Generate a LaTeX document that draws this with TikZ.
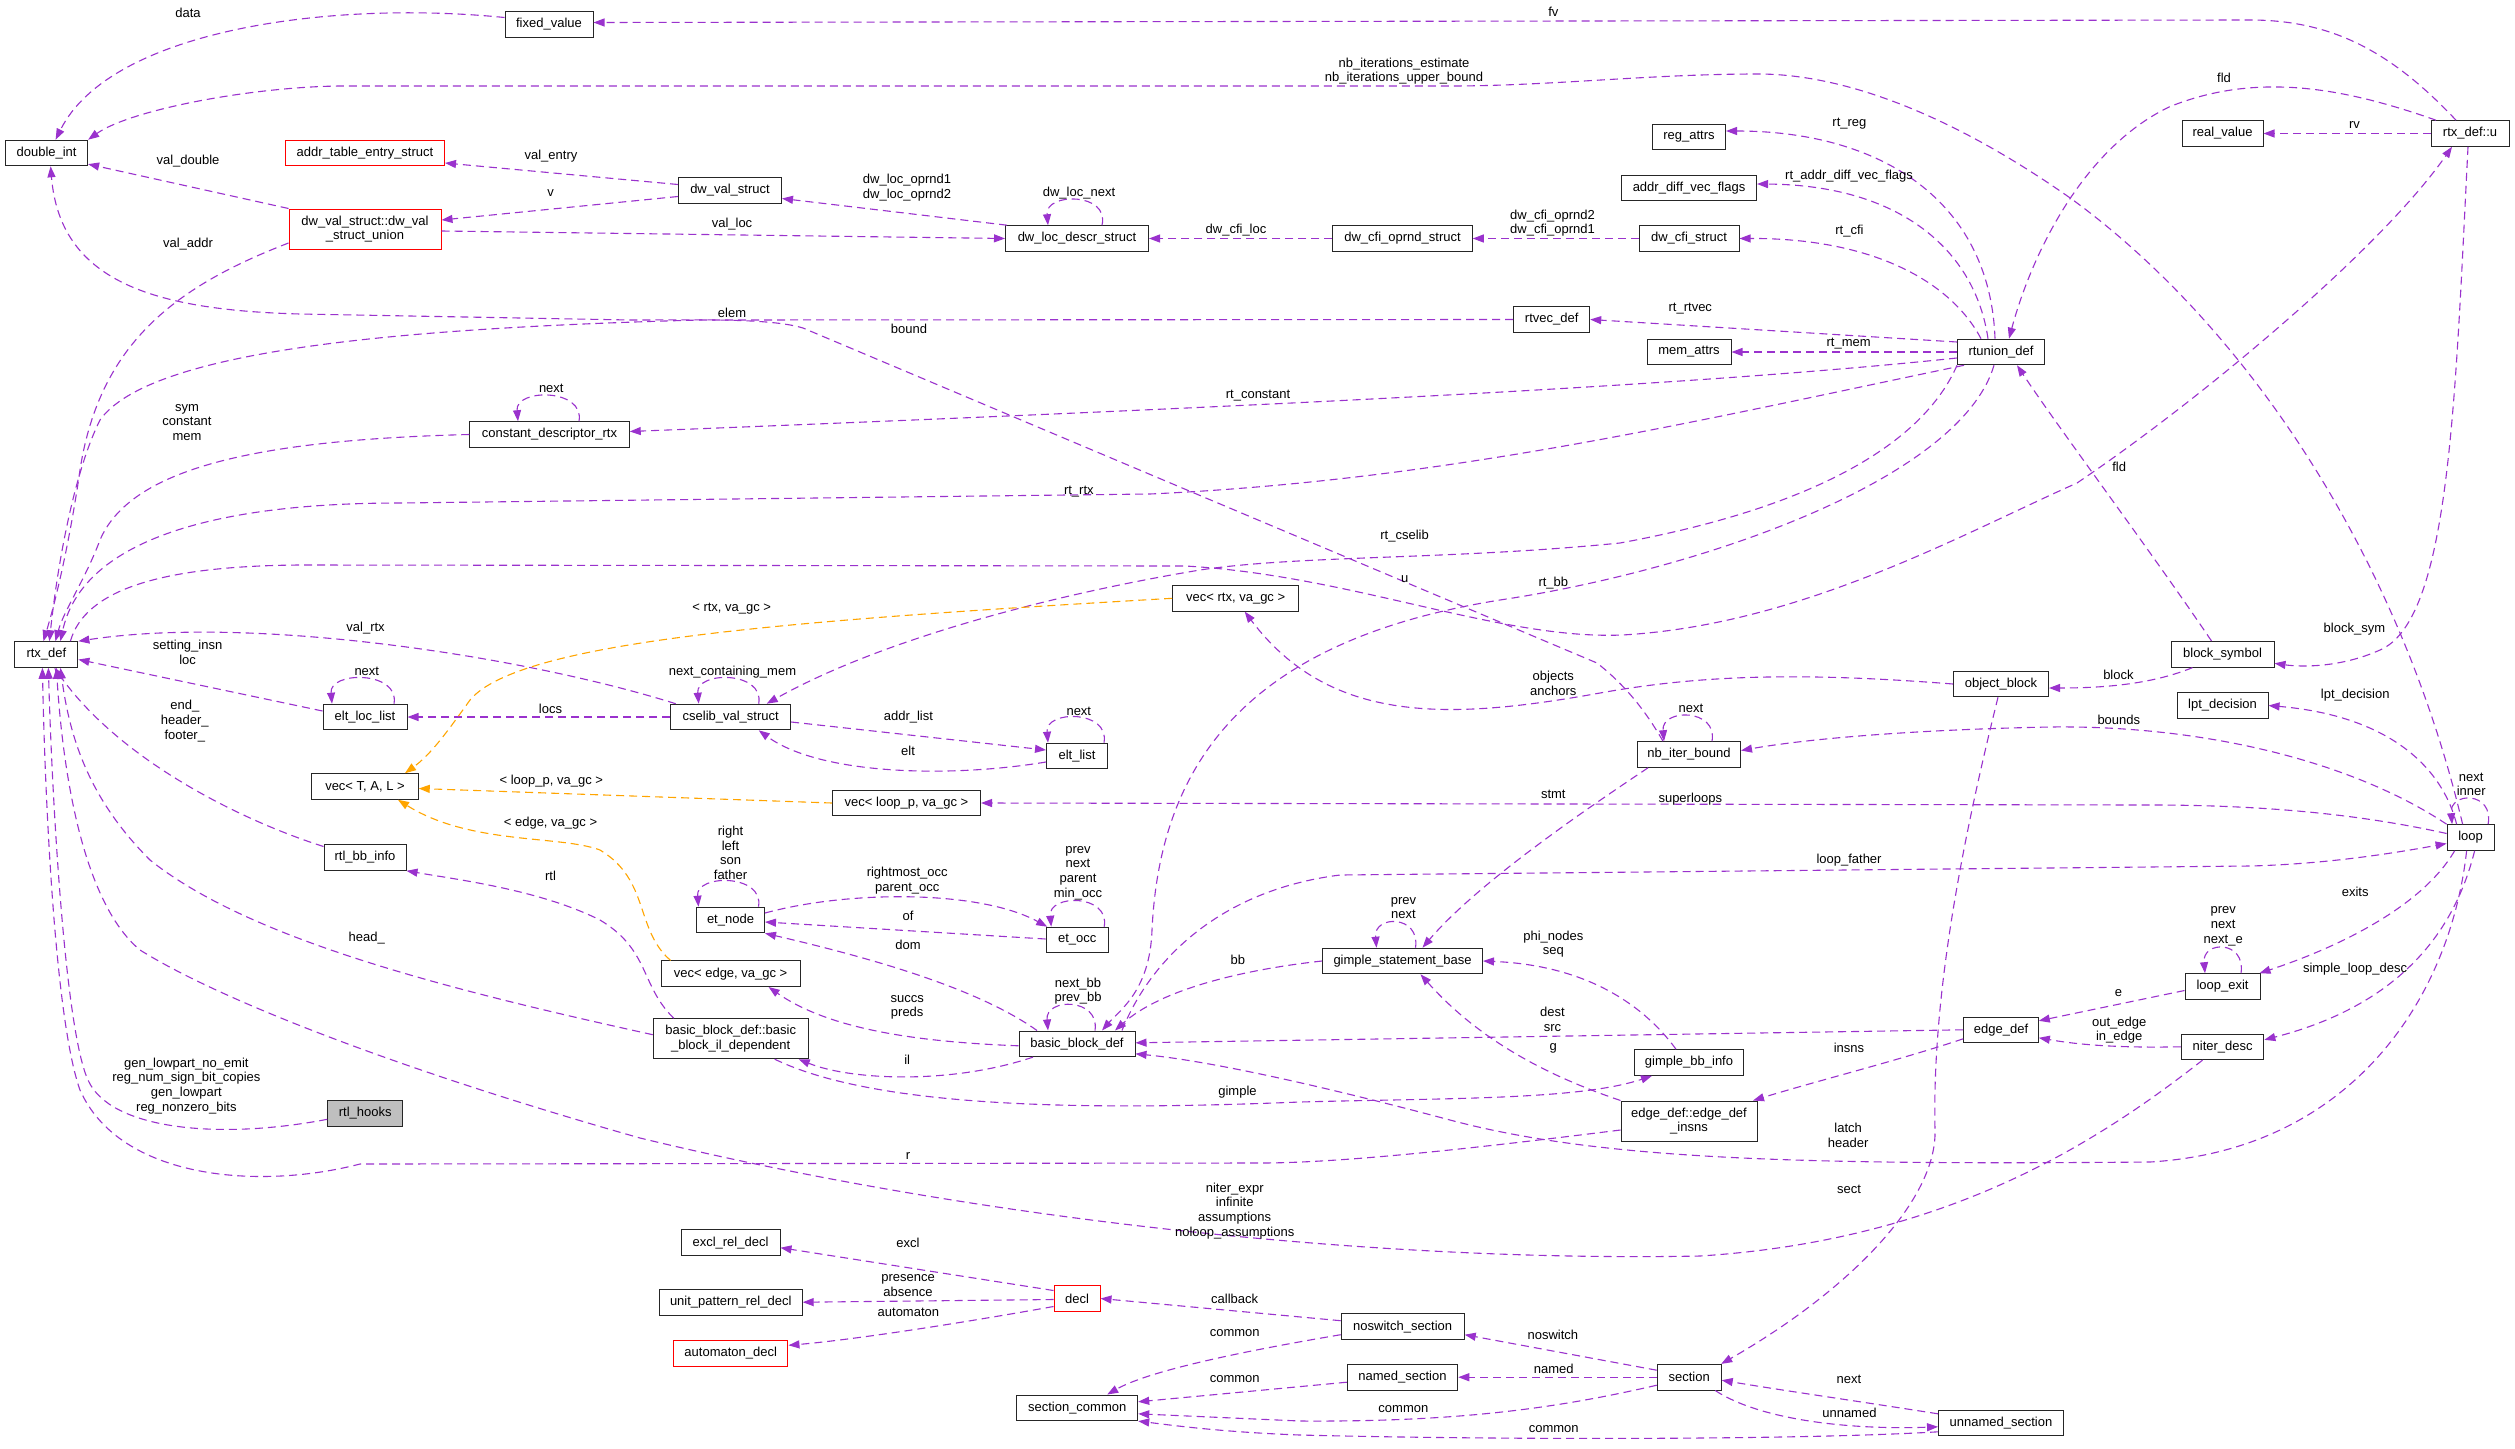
\documentclass[tikz,border=0pt]{standalone}
\usepackage{fontspec}
\setmainfont{Liberation Sans}
\usetikzlibrary{arrows.meta}
\definecolor{pcol}{HTML}{9A32CD}
\definecolor{ocol}{HTML}{FFA500}
\newcommand\dxf{\fontsize{13}{14.7}\selectfont}
\tikzset{
 box/.style={draw=black!85, line width=1pt, fill=white, minimum height=25.6pt, inner xsep=1pt, inner ysep=2pt, font=\dxf, align=center},
 pe/.style={draw=pcol, line width=1.1pt, dash pattern=on 8pt off 5pt, -{Triangle[length=11pt,width=8pt]}},
 oe/.style={pe, draw=ocol},
 lab/.style={font=\dxf, align=center, inner sep=0pt},
}
\begin{document}
\begin{tikzpicture}[x=1pt,y=-1pt]
\fill[white] (0,0) rectangle (2515,1448);
\useasboundingbox (0,0) rectangle (2515,1448);
% nodes
\node[box, minimum width=88pt] (fixedvalue) at (549,24.5) {fixed\_value};
\node[box, minimum width=82pt] (doubleint) at (46.6,153) {double\_int};
\node[box, draw=red, minimum width=159pt] (addrtable) at (365,153) {addr\_table\_entry\_struct};
\node[box, draw=red, minimum height=40pt, minimum width=152pt] (dwvsu) at (365,229) {dw\_val\_struct::dw\_val\\\_struct\_union};
\node[box, minimum width=159.5pt] (cdr) at (549.5,434.5) {constant\_descriptor\_rtx};
\node[box, minimum width=103pt] (dwvs) at (730,190.5) {dw\_val\_struct};
\node[box, minimum width=143pt] (dwloc) at (1077,238.5) {dw\_loc\_descr\_struct};
\node[box, minimum width=73pt] (regattrs) at (1689,137) {reg\_attrs};
\node[box, minimum width=135pt] (advf) at (1689,188) {addr\_diff\_vec\_flags};
\node[box, minimum width=139.5pt] (cfiop) at (1402.5,238.5) {dw\_cfi\_oprnd\_struct};
\node[box, minimum width=100pt] (cfis) at (1689,238.5) {dw\_cfi\_struct};
\node[box, minimum width=76pt] (rtvec) at (1551.7,319.5) {rtvec\_def};
\node[box, minimum width=84pt] (memattrs) at (1689,352) {mem\_attrs};
\node[box, minimum width=81pt] (realv) at (2222.5,133.5) {real\_value};
\node[box, minimum width=78pt] (rtxu) at (2470,133.5) {rtx\_def::u};
\node[box, minimum width=87pt] (rtunion) at (2001,352) {rtunion\_def};
\node[box, minimum width=63pt] (rtx) at (46.4,654.5) {rtx\_def};
\node[box, minimum width=84pt] (eltloc) at (365,717) {elt\_loc\_list};
\node[box, minimum width=106.5pt] (vectal) at (365,786.5) {vec< T, A, L >};
\node[box, minimum width=82pt] (rtlbb) at (365,857.5) {rtl\_bb\_info};
\node[box, minimum width=126pt] (vecrtx) at (1235.7,598.3) {vec< rtx, va\_gc >};
\node[box, minimum width=120pt] (cselib) at (730.7,717) {cselib\_val\_struct};
\node[box, minimum width=61pt] (eltlist) at (1077,756) {elt\_list};
\node[box, minimum width=148pt] (vecloop) at (906.5,803) {vec< loop\_p, va\_gc >};
\node[box, minimum width=68pt] (etnode) at (730.5,920) {et\_node};
\node[box, minimum width=62pt] (etocc) at (1077.2,940) {et\_occ};
\node[box, minimum width=103pt] (nbiter) at (1689,754.5) {nb\_iter\_bound};
\node[box, minimum width=160pt] (gsb) at (1402.5,961) {gimple\_statement\_base};
\node[box, minimum width=103pt] (blocksym) at (2222.5,654.3) {block\_symbol};
\node[box, minimum width=95pt] (objblock) at (2001,684) {object\_block};
\node[box, minimum width=91pt] (lpt) at (2222.5,705.5) {lpt\_decision};
\node[box, minimum width=47pt] (loop) at (2470.6,837.5) {loop};
\node[box, fill=black!25, minimum width=75pt] (rtlhooks) at (365.2,1113.3) {rtl\_hooks};
\node[box, minimum width=139pt] (vecedge) at (730.6,973.7) {vec< edge, va\_gc >};
\node[box, minimum height=40pt, minimum width=155pt] (bbil) at (730.7,1038.7) {basic\_block\_def::basic\\\_block\_il\_dependent};
\node[box, minimum width=116pt] (bbd) at (1077,1043.8) {basic\_block\_def};
\node[box, minimum width=99pt] (excl) at (730.5,1242.7) {excl\_rel\_decl};
\node[box, minimum width=143pt] (upr) at (730.7,1302.2) {unit\_pattern\_rel\_decl};
\node[box, draw=red, minimum width=114.5pt] (autom) at (730.7,1353.3) {automaton\_decl};
\node[box, draw=red, minimum width=46pt] (decl) at (1077,1298.5) {decl};
\node[box, minimum width=121pt] (seccommon) at (1077.2,1407.8) {section\_common};
\node[box, minimum width=109pt] (gbb) at (1689,1062.5) {gimple\_bb\_info};
\node[box, minimum height=40pt, minimum width=136pt] (edi) at (1689,1121) {edge\_def::edge\_def\\\_insns};
\node[box, minimum width=123pt] (noswitch) at (1402.7,1326.7) {noswitch\_section};
\node[box, minimum width=110.5pt] (named) at (1402.5,1377.2) {named\_section};
\node[box, minimum width=64pt] (section) at (1689.2,1377.2) {section};
\node[box, minimum width=75pt] (loopexit) at (2222.5,986.5) {loop\_exit};
\node[box, minimum width=74.6pt] (edgedef) at (2001,1029.8) {edge\_def};
\node[box, minimum width=82.5pt] (niter) at (2222.6,1046.8) {niter\_desc};
\node[box, minimum width=125pt] (unnamed) at (2001,1422.8) {unnamed\_section};
% edges
\draw[pe] ([yshift=7pt]fixedvalue.west) .. controls (330,0) and (110,30) .. ([xshift=9pt]doubleint.north);
\draw[pe] ([xshift=-14pt]rtxu.north) .. controls (2390,50) and (2330,20) .. (2250,20) -- ([yshift=2pt]fixedvalue.east);
\draw[pe] ([xshift=-8pt]loop.north) .. controls (2400,560) and (2250,330) .. (2073,200) .. controls (1960,120) and (1850,74) .. (1758,74) .. controls (1650,74) and (1550,86) .. (1450,86) -- (340,86) .. controls (250,87) and (130,110) .. (doubleint.north east);
\draw[pe] (dwvsu.north west) -- (doubleint.-15);
\draw[pe] ([yshift=-14pt]dwvsu.west) .. controls (180,285) and (100,340) .. (80,470) .. controls (70,540) and (56,600) .. ([xshift=-3pt]rtx.north);
\draw[pe] ([yshift=-2pt]dwvsu.east) -- (dwloc.west);
\draw[pe] ([yshift=-6pt]dwvs.west) -- ([yshift=9pt]dwvsu.east);
\draw[pe] ([yshift=6pt]dwvs.west) -- ([yshift=-10pt]addrtable.east);
\draw[pe] ([xshift=-70pt]dwloc.north) -- ([yshift=-8pt]dwvs.east);
\draw[pe] ([xshift=25pt]dwloc.north) .. controls +(8,-33) and +(-3,-33) .. ([xshift=-29pt]dwloc.north);
\draw[pe] (cfiop.west) -- (dwloc.east);
\draw[pe] (cfis.west) -- (cfiop.east);
\draw[pe] ([xshift=-6pt]rtunion.north) .. controls (1990,200) and (1880,131) .. ([yshift=6pt]regattrs.east);
\draw[pe] ([xshift=-13pt]rtunion.north) .. controls (1975,250) and (1900,185) .. ([yshift=4pt]advf.east);
\draw[pe] ([xshift=-20pt]rtunion.north) .. controls (1950,280) and (1870,238) .. (cfis.east);
\draw[pe] ([yshift=10pt]rtunion.west) -- (rtvec.east);
\draw[pe] (rtunion.west) -- (memattrs.east);
\draw[pe] ([yshift=-6pt]rtunion.west) .. controls (1700,385) and (1300,405) .. ([yshift=3pt]cdr.east);
\draw[pe] ([xshift=-37pt]rtunion.south) .. controls (1700,420) and (1450,480) .. (1150,494) -- (400,503) .. controls (190,503) and (80,550) .. ([xshift=14pt]rtx.north);
\draw[pe] (rtunion.south west) .. controls (1920,450) and (1800,510) .. (1620,543) .. controls (1450,560) and (1300,555) .. (1200,570) .. controls (1050,595) and (880,640) .. ([xshift=36pt]cselib.north);
\draw[pe] ([xshift=-7pt]rtunion.south) .. controls (1960,480) and (1700,570) .. (1500,600) .. controls (1250,640) and (1160,760) .. (1152,930) .. controls (1150,990) and (1120,1010) .. ([xshift=25pt]bbd.north);
\draw[pe] ([xshift=-34pt]rtxu.north) .. controls (2350,90) and (2260,70) .. (2169,107) .. controls (2080,150) and (2030,260) .. ([xshift=8pt]rtunion.north);
\draw[pe] (rtxu.west) -- (realv.east);
\draw[pe] ([xshift=-2pt]rtxu.south) .. controls (2455,400) and (2450,620) .. (2380,650) .. controls (2340,668) and (2300,667) .. ([yshift=-9pt]blocksym.east);
\draw[pe] ([xshift=24pt]rtx.north) .. controls (85,590) and (160,566) .. (300,565) -- (1185,566) .. controls (1350,575) and (1500,640) .. (1622,635) .. controls (1800,625) and (1960,535) .. (2077,483) .. controls (2200,400) and (2380,250) .. ([xshift=-18pt]rtxu.south);
\draw[pe] ([xshift=-26pt]nbiter.north) .. controls (1645,710) and (1625,685) .. (1597,663) -- (803,328) .. controls (770,318) and (700,320) .. (630,320) -- (300,314) .. controls (150,310) and (60,280) .. ([xshift=4pt]doubleint.south);
\draw[pe] (rtvec.west) -- (700,320) .. controls (400,328) and (150,350) .. (100,420) .. controls (75,470) and (58,560) .. ([xshift=3pt]rtx.north);
\draw[pe] (cdr.west) .. controls (250,440) and (130,470) .. (100,540) .. controls (85,580) and (64,610) .. ([xshift=9pt]rtx.north);
\draw[pe] ([xshift=29.5pt]cdr.north) .. controls +(6,-33) and +(-3,-33) .. ([xshift=-31.5pt]cdr.north);
\draw[pe] ([xshift=-55pt]cselib.north) .. controls (520,655) and (250,615) .. (rtx.north east);
\draw[pe] ([yshift=6pt]eltloc.west) -- ([yshift=-5pt]rtx.east);
\draw[pe] (cselib.west) -- (eltloc.east);
\draw[pe] ([yshift=-5pt]cselib.east) -- ([yshift=6pt]eltlist.west);
\draw[pe] ([yshift=-6pt]eltlist.west) .. controls (950,778) and (820,775) .. ([xshift=28pt]cselib.south);
\draw[oe] (vecrtx.west) .. controls (800,620) and (520,640) .. (470,700) .. controls (445,735) and (430,755) .. ([xshift=40pt]vectal.north);
\draw[oe] (vecloop.west) -- ([yshift=-2pt]vectal.east);
\draw[oe] ([xshift=-60pt]vecedge.north) .. controls (635,930) and (650,880) .. (600,850) .. controls (560,835) and (470,845) .. ([xshift=33pt]vectal.south);
\draw[pe] ([yshift=4pt]loop.west) .. controls (2350,812) and (2250,805) .. (2150,805) -- (vecloop.east);
\draw[pe] ([xshift=-41pt]nbiter.south) .. controls (1600,800) and (1480,880) .. ([xshift=20pt]gsb.north);
\draw[pe] (gsb.west) .. controls (1240,970) and (1160,990) .. ([xshift=38pt]bbd.north);
\draw[pe] ([xshift=45pt]bbd.north) .. controls (1150,960) and (1220,890) .. (1340,875) -- (2250,866) .. controls (2330,864) and (2400,852) .. ([yshift=-6pt]loop.west);
\draw[pe] ([xshift=-40pt]bbd.north) .. controls (980,990) and (880,960) .. (etnode.south east);
\draw[pe] ([yshift=7pt]etnode.east) .. controls (850,890) and (980,890) .. ([xshift=-30pt]etocc.north);
\draw[pe] ([yshift=1pt]etocc.west) -- ([yshift=-2pt]etnode.east);
\draw[pe] ([yshift=-2pt]bbd.west) .. controls (920,1042) and (830,1030) .. ([xshift=38pt]vecedge.south);
\draw[pe] ([xshift=-44pt]bbd.south) .. controls (950,1085) and (850,1080) .. ([xshift=68pt]bbil.south);
\draw[pe] ([xshift=44pt]bbil.south) .. controls (880,1110) and (1100,1110) .. (1300,1102) .. controls (1450,1098) and (1580,1100) .. ([xshift=-37pt]gbb.south);
\draw[pe] ([xshift=-57pt]bbil.north) .. controls (640,985) and (650,950) .. (600,920) .. controls (540,890) and (460,880) .. (rtlbb.south east);
\draw[pe] ([yshift=11pt]rtlbb.west) .. controls (240,820) and (120,760) .. ([xshift=8pt]rtx.south);
\draw[pe] ([yshift=4pt]bbil.west) .. controls (450,990) and (250,940) .. (150,860) .. controls (90,800) and (70,740) .. ([xshift=14pt]rtx.south);
\draw[pe] ([yshift=-9pt]edi.west) .. controls (1500,1145) and (1350,1163) .. (1260,1163) -- (360,1164) .. controls (260,1190) and (120,1180) .. (80,1090) .. controls (55,1020) and (45,800) .. ([xshift=-4pt]rtx.south);
\draw[pe] ([yshift=-6pt]rtlhooks.west) .. controls (220,1140) and (110,1130) .. (88,1080) .. controls (65,1030) and (52,800) .. ([xshift=2pt]rtx.south);
\draw[pe] ([xshift=-20pt]niter.south) .. controls (2100,1140) and (1950,1240) .. (1700,1256) .. controls (1400,1262) and (1000,1225) .. (640,1138) .. controls (400,1070) and (220,1000) .. (140,950) .. controls (80,900) and (62,760) .. ([xshift=10pt]rtx.south);
\draw[pe] ([xshift=-4pt]loop.south) .. controls (2450,1000) and (2350,1150) .. (2150,1162) .. controls (1800,1165) and (1600,1160) .. (1450,1120) .. controls (1300,1080) and (1200,1060) .. ([yshift=-10pt]bbd.east);
\draw[pe] ([xshift=-16pt]loop.south) .. controls (2420,910) and (2330,950) .. ([xshift=37pt]loopexit.north);
\draw[pe] ([xshift=4pt]loop.south) .. controls (2450,950) and (2380,1010) .. ([yshift=7pt]niter.east);
\draw[pe] ([xshift=-14pt]loop.north) .. controls (2440,760) and (2380,715) .. (lpt.east);
\draw[pe] (loop.north west) .. controls (2350,760) and (2200,725) .. (2050,727) .. controls (1900,730) and (1800,740) .. ([yshift=4pt]nbiter.east);
\draw[pe] ([yshift=-4pt]loopexit.west) -- ([yshift=9pt]edgedef.east);
\draw[pe] (niter.west) .. controls (2120,1048) and (2080,1045) .. ([yshift=-8pt]edgedef.east);
\draw[pe] (edgedef.west) -- ([yshift=1pt]bbd.east);
\draw[pe] ([yshift=-9pt]edgedef.west) .. controls (1900,1060) and (1820,1080) .. ([xshift=64pt]edi.north);
\draw[pe] (edi.north west) .. controls (1530,1070) and (1470,1030) .. ([xshift=18pt]gsb.south);
\draw[pe] ([xshift=-13pt]gbb.north) .. controls (1640,1000) and (1580,965) .. (gsb.east);
\draw[pe] ([yshift=8pt]decl.west) -- ([yshift=-5pt]excl.east);
\draw[pe] ([yshift=-1pt]decl.west) -- (upr.east);
\draw[pe] ([yshift=-8pt]decl.west) .. controls (950,1325) and (850,1340) .. ([yshift=8pt]autom.east);
\draw[pe] ([yshift=6pt]noswitch.west) -- (decl.east);
\draw[pe] ([yshift=-8pt]noswitch.west) .. controls (1250,1350) and (1150,1370) .. ([xshift=30pt]seccommon.north);
\draw[pe] ([yshift=-5pt]named.west) -- ([yshift=6pt]seccommon.east);
\draw[pe] ([yshift=-8pt]section.west) .. controls (1550,1410) and (1450,1422) .. (1300,1421) -- ([yshift=-6pt]seccommon.east);
\draw[pe] ([yshift=-9pt]unnamed.west) .. controls (1800,1440) and (1500,1440) .. (1300,1435) .. controls (1220,1432) and (1170,1425) .. (seccommon.south east);
\draw[pe] ([xshift=26pt]section.south) .. controls (1760,1420) and (1850,1430) .. ([yshift=-4pt]unnamed.west);
\draw[pe] ([yshift=9pt]unnamed.west) .. controls (1850,1400) and (1780,1390) .. ([yshift=-3pt]section.east);
\draw[pe] ([yshift=7pt]section.west) -- ([yshift=-8pt]noswitch.east);
\draw[pe] (section.west) -- (named.east);
\draw[pe] ([xshift=-3pt]objblock.south) .. controls (1960,850) and (1932,1000) .. (1935,1130) .. controls (1937,1200) and (1850,1290) .. ([xshift=32pt]section.north);
\draw[pe] (objblock.west) .. controls (1800,672) and (1700,675) .. (1600,693) .. controls (1450,720) and (1330,725) .. ([xshift=9pt]vecrtx.south);
\draw[pe] ([xshift=-30pt]blocksym.south) .. controls (2150,685) and (2100,688) .. ([yshift=-4pt]objblock.east);
\draw[pe] ([xshift=-11pt]blocksym.north) .. controls (2150,550) and (2060,430) .. ([xshift=16pt]rtunion.south);
% self loops
\draw[pe] ([xshift=18.5pt]loopexit.north) .. controls +(5,-33) and +(-3,-33) .. ([xshift=-17.5pt]loopexit.north);
\draw[pe] ([xshift=17.5pt]loop.north) .. controls +(6,-33) and +(-3,-33) .. ([xshift=-18.5pt]loop.north);
\draw[pe] ([xshift=23pt]nbiter.north) .. controls +(6,-33) and +(-3,-33) .. ([xshift=-25pt]nbiter.north);
\draw[pe] ([xshift=13pt]gsb.north) .. controls +(5,-33) and +(-3,-33) .. ([xshift=-26pt]gsb.north);
\draw[pe] ([xshift=18pt]bbd.north) .. controls +(5,-33) and +(-3,-33) .. ([xshift=-29pt]bbd.north);
\draw[pe] ([xshift=28pt]etnode.north) .. controls +(6,-33) and +(-3,-33) .. ([xshift=-32pt]etnode.north);
\draw[pe] ([xshift=27pt]etocc.north) .. controls +(6,-33) and +(-3,-33) .. ([xshift=-26pt]etocc.north);
\draw[pe] ([xshift=27pt]eltlist.north) .. controls +(6,-33) and +(-3,-33) .. ([xshift=-29pt]eltlist.north);
\draw[pe] ([xshift=29pt]eltloc.north) .. controls +(6,-33) and +(-3,-33) .. ([xshift=-33pt]eltloc.north);
\draw[pe] ([xshift=28pt]cselib.north) .. controls +(6,-33) and +(-3,-33) .. ([xshift=-32pt]cselib.north);
% labels
\node[lab] (t1) at (188,12.7) {data};
\node[lab] (t2) at (1553.3,11.7) {fv};
\node[lab] (t3) at (1404,71) {nb\_iterations\_estimate\\nb\_iterations\_upper\_bound};
\node[lab] (t4) at (188,160.7) {val\_double};
\node[lab] (t5) at (188,243.7) {val\_addr};
\node[lab] (t6) at (551,156) {val\_entry};
\node[lab] (t7) at (550.5,192.7) {v};
\node[lab] (t8) at (907,187.5) {dw\_loc\_oprnd1\\dw\_loc\_oprnd2};
\node[lab] (t9) at (1079,192.7) {dw\_loc\_next};
\node[lab] (t10) at (732,223.7) {val\_loc};
\node[lab] (t11) at (732,312.7) {elem};
\node[lab] (t12) at (909,328.7) {bound};
\node[lab] (t13) at (1236,230) {dw\_cfi\_loc};
\node[lab] (t14) at (1258,396) {rt\_constant};
\node[lab] (t15) at (1849.4,123.3) {rt\_reg};
\node[lab] (t16) at (1849,175.7) {rt\_addr\_diff\_vec\_flags};
\node[lab] (t17) at (1552.5,223.2) {dw\_cfi\_oprnd2\\dw\_cfi\_oprnd1};
\node[lab] (t18) at (1849.4,231.3) {rt\_cfi};
\node[lab] (t19) at (1690.3,308.7) {rt\_rtvec};
\node[lab] (t20) at (1848.6,343.7) {rt\_mem};
\node[lab] (t21) at (2224,78.3) {fld};
\node[lab] (t22) at (2354.4,125) {rv};
\node[lab] (t23) at (2119.2,467.3) {fld};
\node[lab] (t24) at (551.3,388.7) {next};
\node[lab] (t25) at (187,422.5) {sym\\constant\\mem};
\node[lab] (t26) at (1078.8,492) {rt\_rtx};
\node[lab] (t27) at (1404.6,536.3) {rt\_cselib};
\node[lab] (t28) at (1404.6,579) {u};
\node[lab] (t29) at (1553.3,583) {rt\_bb};
\node[lab] (t30) at (731.7,608.3) {< rtx, va\_gc >};
\node[lab] (t31) at (732.5,671.7) {next\_containing\_mem};
\node[lab] (t32) at (908.4,716.7) {addr\_list};
\node[lab] (t33) at (1078.8,711) {next};
\node[lab] (t34) at (908,750.7) {elt};
\node[lab] (t35) at (730.5,852.7) {right\\left\\son\\father};
\node[lab] (t36) at (907.2,880.3) {rightmost\_occ\\parent\_occ};
\node[lab] (t37) at (1078,873) {prev\\next\\parent\\min\_occ};
\node[lab] (t38) at (908,916.3) {of};
\node[lab] (t39) at (908,944.7) {dom};
\node[lab] (t40) at (1237.9,959.7) {bb};
\node[lab] (t41) at (365.6,628) {val\_rtx};
\node[lab] (t42) at (187.6,652.5) {setting\_insn\\loc};
\node[lab] (t43) at (366.8,671.7) {next};
\node[lab] (t44) at (550.5,708.7) {locs};
\node[lab] (t45) at (184.8,721.2) {end\_\\header\_\\footer\_};
\node[lab] (t46) at (551.3,780.7) {< loop\_p, va\_gc >};
\node[lab] (t47) at (550.5,823) {< edge, va\_gc >};
\node[lab] (t48) at (550.5,876.3) {rtl};
\node[lab] (t49) at (366.8,938.3) {head\_};
\node[lab] (t50) at (1553.3,683.2) {objects\\anchors};
\node[lab] (t51) at (1691,708.7) {next};
\node[lab] (t52) at (1553.3,794.7) {stmt};
\node[lab] (t53) at (1690.3,798.7) {superloops};
\node[lab] (t54) at (1849,859.7) {loop\_father};
\node[lab] (t55) at (1403.4,908.2) {prev\\next};
\node[lab] (t56) at (1553.3,944.2) {phi\_nodes\\seq};
\node[lab] (t57) at (2354.4,628.7) {block\_sym};
\node[lab] (t58) at (2118.4,674.7) {block};
\node[lab] (t59) at (2355.2,695.3) {lpt\_decision};
\node[lab] (t60) at (2118.8,719.7) {bounds};
\node[lab] (t61) at (2471.2,784.3) {next\\inner};
\node[lab] (t62) at (2355.2,892.3) {exits};
\node[lab] (t63) at (2223.2,926.3) {prev\\next\\next\_e};
\node[lab] (t64) at (2355,969.3) {simple\_loop\_desc};
\node[lab] (t65) at (186.4,1085.7) {gen\_lowpart\_no\_emit\\reg\_num\_sign\_bit\_copies\\gen\_lowpart\\reg\_nonzero\_bits};
\node[lab] (t66) at (1078,991.2) {next\_bb\\prev\_bb};
\node[lab] (t67) at (907.2,1007.2) {succs\\preds};
\node[lab] (t68) at (907.2,1059.3) {il};
\node[lab] (t69) at (1237.5,1091.7) {gimple};
\node[lab] (t70) at (908,1156) {r};
\node[lab] (t71) at (1234.7,1210.7) {niter\_expr\\infinite\\assumptions\\noloop\_assumptions};
\node[lab] (t72) at (908,1242.7) {excl};
\node[lab] (t73) at (908,1285.7) {presence\\absence};
\node[lab] (t74) at (908.4,1312.7) {automaton};
\node[lab] (t75) at (1234.7,1298.7) {callback};
\node[lab] (t76) at (1234.7,1332.7) {common};
\node[lab] (t77) at (1234.7,1378.7) {common};
\node[lab] (t78) at (1552.5,1019.2) {dest\\src};
\node[lab] (t79) at (1553.3,1048.7) {g};
\node[lab] (t80) at (1849,1047.7) {insns};
\node[lab] (t81) at (1848.2,1135.2) {latch\\header};
\node[lab] (t82) at (1849,1189) {sect};
\node[lab] (t83) at (1552.9,1334.7) {noswitch};
\node[lab] (t84) at (1553.7,1368.7) {named};
\node[lab] (t85) at (1403.4,1408.7) {common};
\node[lab] (t86) at (1849,1379.7) {next};
\node[lab] (t87) at (1849.4,1412.7) {unnamed};
\node[lab] (t88) at (1553.7,1428.7) {common};
\node[lab] (t89) at (2118.4,992.7) {e};
\node[lab] (t90) at (2119.2,1030) {out\_edge\\in\_edge};
\end{tikzpicture}
\end{document}
